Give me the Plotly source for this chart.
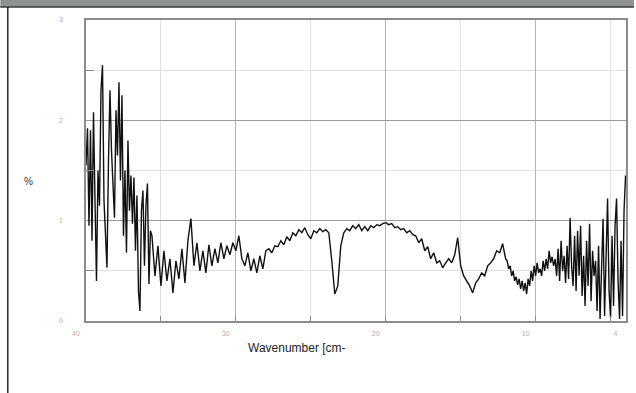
import plotly.graph_objects as go

# Spectrum samples: wavenumber and transmittance (%)
wavenumber = [
    40.0, 39.9, 39.8, 39.7, 39.6, 39.5, 39.4, 39.3, 39.2, 39.1, 39.0, 38.9, 38.8, 38.7, 38.6,
    38.5, 38.4, 38.3, 38.2, 38.1, 38.0, 37.9, 37.8, 37.7, 37.6, 37.5, 37.4, 37.3, 37.2, 37.1,
    37.0, 36.9, 36.8, 36.7, 36.6, 36.5, 36.4, 36.3, 36.2, 36.1, 36.0, 35.9, 35.8, 35.7,
    35.6, 35.4, 35.2, 35.0, 34.8, 34.6, 34.4, 34.2, 34.0, 33.8, 33.6, 33.4, 33.2, 33.0,
    32.8, 32.6, 32.4, 32.2, 32.0, 31.8, 31.6, 31.4, 31.2, 31.0, 30.8,
    30.6, 30.4, 30.2, 30.0, 29.8, 29.6, 29.4, 29.2, 29.0, 28.8, 28.6, 28.4, 28.2, 28.0,
    27.8, 27.6, 27.4, 27.2, 27.0, 26.8, 26.6, 26.4, 26.2, 26.0, 25.8, 25.6, 25.4, 25.2,
    25.0, 24.8, 24.6, 24.4, 24.2, 24.0, 23.8, 23.6, 23.4, 23.2, 23.0, 22.8, 22.6, 22.4,
    22.2, 22.0, 21.8, 21.6, 21.4, 21.2, 21.0, 20.8, 20.6, 20.4, 20.2, 20.0, 19.8, 19.6,
    19.4, 19.2, 19.0, 18.8, 18.6, 18.4, 18.2, 18.0, 17.8, 17.6, 17.4, 17.2, 17.0, 16.8,
    16.6, 16.4, 16.2, 16.0, 15.8, 15.6, 15.4, 15.2, 15.0, 14.8, 14.6, 14.4, 14.2, 14.0,
    13.8, 13.6, 13.4, 13.2, 13.0, 12.8, 12.6, 12.4, 12.2, 12.0,
    11.9, 11.8, 11.7, 11.6, 11.5, 11.4, 11.3, 11.2, 11.1, 11.0, 10.9, 10.8, 10.7, 10.6,
    10.5, 10.4, 10.3, 10.2, 10.1, 10.0, 9.9, 9.8, 9.7, 9.6, 9.5, 9.4, 9.3, 9.2, 9.1, 9.0,
    8.9, 8.8, 8.7, 8.6, 8.5, 8.4, 8.3, 8.2, 8.1, 8.0, 7.9, 7.8, 7.7, 7.6, 7.5, 7.4, 7.3,
    7.2, 7.1, 7.0, 6.9, 6.8, 6.7, 6.6, 6.5, 6.4, 6.3, 6.2, 6.1, 6.0, 5.9, 5.8, 5.7, 5.6,
    5.5, 5.4, 5.3, 5.2, 5.1, 5.0, 4.9, 4.8, 4.7, 4.6, 4.5, 4.4, 4.3, 4.2, 4.1, 4.0,
]
transmittance = [
    1.55, 1.92, 0.95, 1.90, 0.80, 2.08, 1.20, 0.40, 1.50, 1.15, 2.30, 2.55, 1.20, 0.90, 0.53,
    1.60, 2.30, 1.70, 1.30, 1.03, 2.10, 1.65, 2.38, 1.40, 2.25, 0.85, 1.50, 0.68, 1.80, 1.10,
    1.45, 0.97, 1.43, 0.70, 1.25, 0.30, 0.10, 1.10, 1.30, 0.55, 1.15, 1.37, 0.37, 0.90,
    0.85, 0.45, 0.75, 0.35, 0.70, 0.40, 0.62, 0.28, 0.60, 0.42, 0.72, 0.38, 0.80, 1.02,
    0.55, 0.78, 0.50, 0.70, 0.48, 0.76, 0.55, 0.72, 0.58, 0.78, 0.62,
    0.75, 0.66, 0.78, 0.70, 0.85, 0.62, 0.55, 0.68, 0.50, 0.62, 0.48, 0.65, 0.52, 0.70,
    0.72, 0.68, 0.75, 0.74, 0.80, 0.76, 0.84, 0.80, 0.88, 0.85, 0.91, 0.88, 0.93, 0.86,
    0.82, 0.90, 0.88, 0.92, 0.89, 0.91, 0.88, 0.60, 0.27, 0.35, 0.75, 0.88, 0.92, 0.90,
    0.95, 0.92, 0.96, 0.90, 0.94, 0.90, 0.95, 0.93, 0.96, 0.95, 0.97, 0.98, 0.96, 0.97,
    0.93, 0.94, 0.91, 0.92, 0.88, 0.90, 0.86, 0.85, 0.78, 0.82, 0.70, 0.74, 0.62, 0.68,
    0.58, 0.60, 0.53, 0.58, 0.62, 0.58, 0.66, 0.83, 0.55, 0.45, 0.40, 0.35, 0.28, 0.38,
    0.42, 0.48, 0.45, 0.55, 0.58, 0.62, 0.70, 0.68, 0.77, 0.62,
    0.60, 0.52, 0.55, 0.45, 0.50, 0.40, 0.44, 0.36, 0.42, 0.32, 0.40, 0.30, 0.38, 0.27,
    0.42, 0.35, 0.50, 0.40, 0.55, 0.45, 0.58, 0.48, 0.52, 0.45, 0.60, 0.50, 0.62, 0.52, 0.70, 0.58,
    0.64, 0.55, 0.62, 0.45, 0.72, 0.40, 0.80, 0.50, 0.65, 0.38, 0.75, 0.42, 1.03, 0.55, 0.35, 0.85, 0.30,
    0.90, 0.45, 0.95, 0.25, 0.65, 0.15, 0.80, 0.35, 0.97, 0.20, 0.70, 0.45, 0.60, 0.10, 0.75, 0.02, 0.50,
    1.02, 0.05, 0.60, 1.22, 0.30, 0.03, 0.85, 0.15, 0.95, 1.22, 0.40, 0.02, 0.80, 0.05, 1.10, 1.45,
]

x_ticks = [40, 30, 20, 10, 4]
x_tick_text = ["40", "30", "20", "10", "4"]
x_minor = [35, 25, 15, 5]
y_ticks = [0, 1, 2, 3]
y_tick_text = ["0", "1", "2", "3"]
y_minor = [0.5, 1.5, 2.5]

W, H = 636, 393
L, R, T, B = 86, 8, 20, 72
pw, ph = W - L - R, H - T - B


def px(x):
    return (x - L) / pw


def py(y):
    return (H - B - y) / ph


fig = go.Figure(
    go.Scatter(
        x=wavenumber,
        y=transmittance,
        mode="lines",
        line=dict(color="#111111", width=1.4),
        hoverinfo="skip",
    )
)

tick_font = dict(family="Liberation Sans, Arial, sans-serif", size=7, color="#b0b0b0")

fig.update_xaxes(
    range=[40, 3.97],
    tickvals=x_ticks,
    ticktext=x_tick_text,
    tickfont=tick_font,
    ticks="inside",
    ticklen=5,
    tickcolor="#888888",
    ticklabelstandoff=5,
    ticklabelshift=10,
    showgrid=True,
    gridcolor="#b4b4b4",
    gridwidth=1,
    minor=dict(tickvals=x_minor, showgrid=True, gridcolor="#e2e2e2",
               ticks="inside", ticklen=5, tickcolor="#888888"),
    showline=True,
    linecolor="#8c8c8c",
    linewidth=1.5,
    mirror=True,
    zeroline=False,
)
fig.update_yaxes(
    range=[0, 3],
    tickvals=y_ticks,
    ticktext=y_tick_text,
    tickfont=tick_font,
    ticks="",
    ticklabelstandoff=20,
    showgrid=True,
    gridcolor="#9a9a9a",
    gridwidth=1,
    minor=dict(tickvals=y_minor, showgrid=True, gridcolor="#e0e0e0",
               ticks="inside", ticklen=8, tickcolor="#888888"),
    showline=True,
    linecolor="#8c8c8c",
    linewidth=1.5,
    mirror=True,
    zeroline=False,
)

shapes = [
    # header band
    dict(type="rect", xref="paper", yref="paper",
         x0=px(0), x1=px(W), y0=py(7), y1=py(-2),
         fillcolor="#8f9393", line=dict(width=0), layer="above"),
    dict(type="line", xref="paper", yref="paper",
         x0=px(0), x1=px(W), y0=py(7), y1=py(7),
         line=dict(color="#3a3a3a", width=1.5), layer="above"),
    # panel left border
    dict(type="line", xref="paper", yref="paper",
         x0=px(7.5), x1=px(7.5), y0=py(7), y1=py(H + 2),
         line=dict(color="#2a2a2a", width=1.5), layer="above"),
]

annotations = [
    dict(text="%", xref="paper", yref="paper", x=px(28), y=py(181),
         showarrow=False, xanchor="center", yanchor="middle",
         font=dict(family="Liberation Sans, Arial, sans-serif", size=10, color="#333333")),
    dict(text="Wavenumber [cm-", xref="paper", yref="paper", x=px(298), y=py(348),
         showarrow=False, xanchor="center", yanchor="middle",
         font=dict(family="Liberation Sans Narrow, Liberation Sans, Arial, sans-serif",
                   size=12, color="#222222")),
]

fig.update_layout(
    width=W,
    height=H,
    margin=dict(l=L, r=R, t=T, b=B, pad=0),
    paper_bgcolor="white",
    plot_bgcolor="white",
    showlegend=False,
    shapes=shapes,
    annotations=annotations,
)

fig.write_html("out.html", config={"displayModeBar": False})
